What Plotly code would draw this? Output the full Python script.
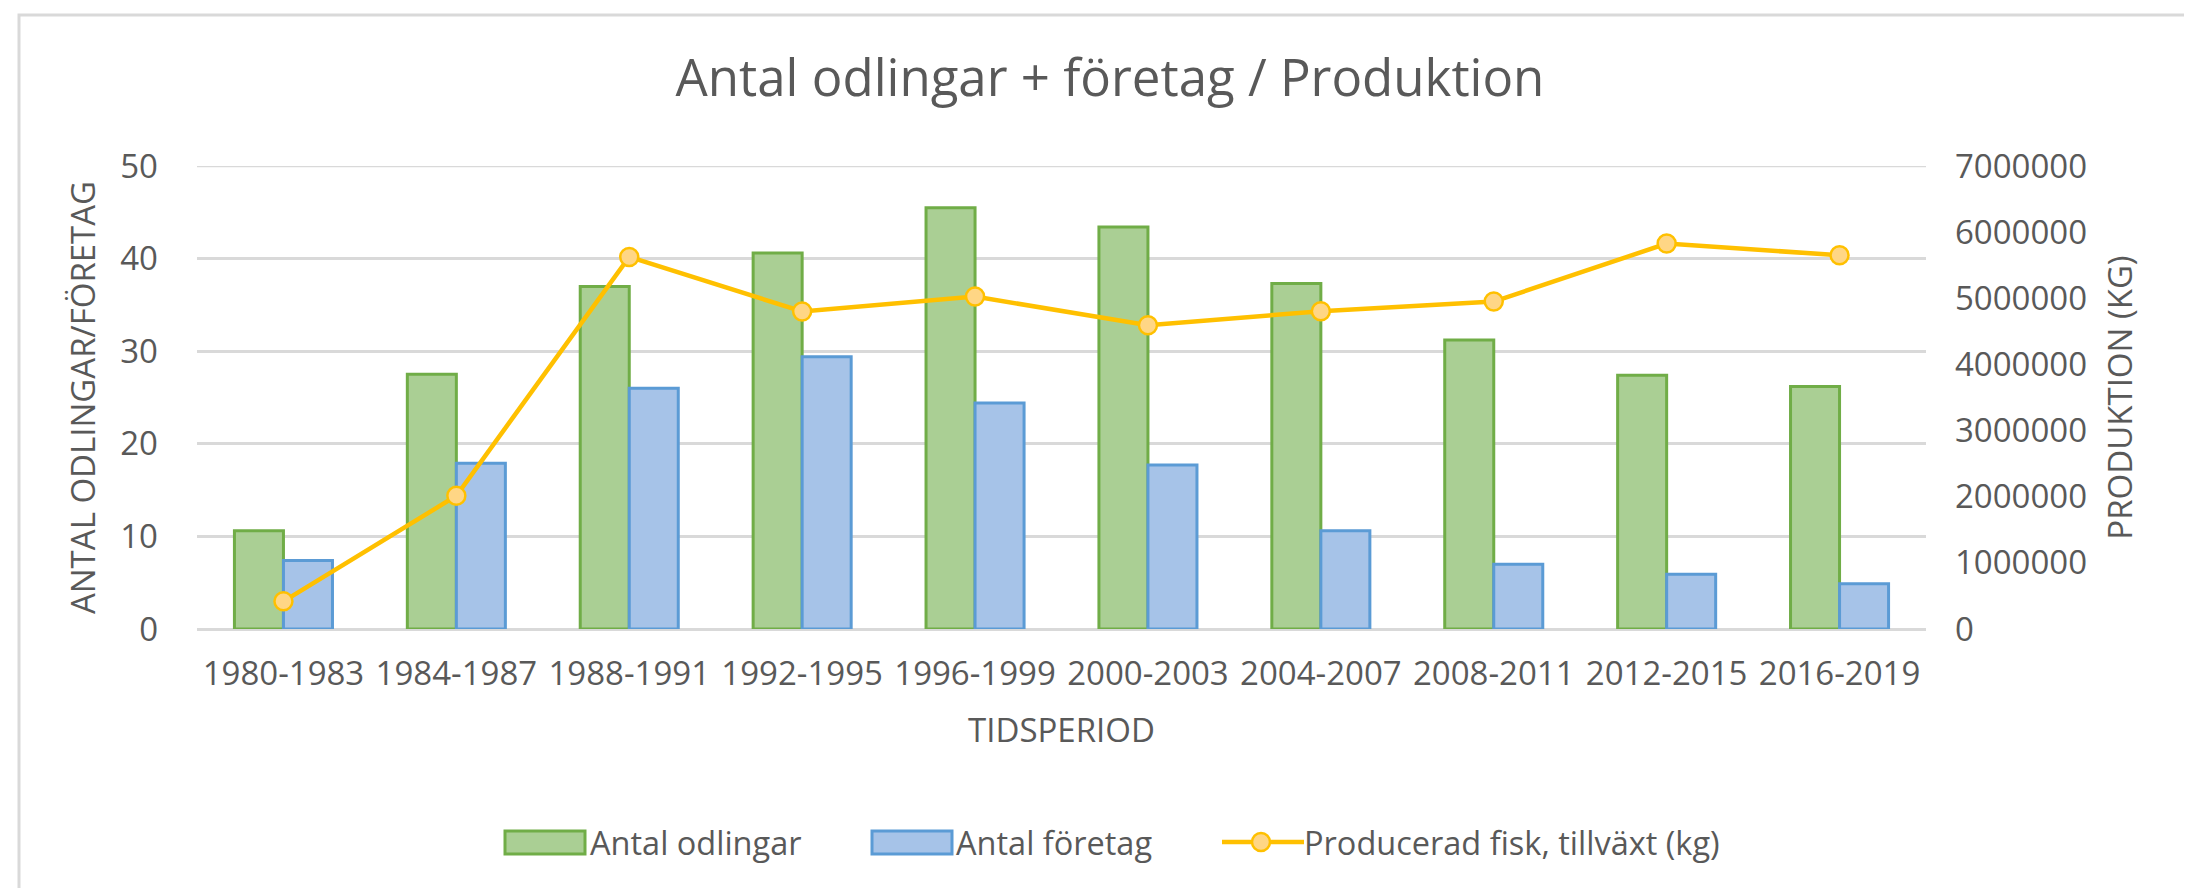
import plotly.graph_objects as go

# ---- data ----
periods = ["1980-1983", "1984-1987", "1988-1991", "1992-1995", "1996-1999",
           "2000-2003", "2004-2007", "2008-2011", "2012-2015", "2016-2019"]
antal_odlingar = [10.6, 27.5, 37.0, 40.6, 45.5, 43.4, 37.3, 31.2, 27.4, 26.2]
antal_foretag = [7.4, 17.9, 26.0, 29.4, 24.4, 17.7, 10.6, 7.0, 5.9, 4.9]
produktion_kg = [418000, 2014000, 5625000, 4800000, 5026000,
                 4593000, 4804000, 4950000, 5827000, 5650000]

title_text = "Antal odlingar + företag / Produktion"
y1_title = "ANTAL ODLINGAR/FÖRETAG"
y2_title = "PRODUKTION (KG)"
x_title = "TIDSPERIOD"
legend_labels = ["Antal odlingar", "Antal företag", "Producerad fisk, tillväxt (kg)"]

# ---- styling ----
W, H = 2192, 888
L, R, T, B = 189, 1918, 158, 621
FONT = "Open Sans"
TXT = "#595959"
GREEN_FILL, GREEN_LINE = "#aacf94", "#70ad47"
BLUE_FILL, BLUE_LINE = "#a6c3e8", "#5b9bd5"
GOLD, GOLD_FILL = "#ffc000", "#ffd685"
FS = 33


def px(x):
    return (x - L) / (R - L)


def py(y):
    return (B - y) / (B - T)


fig = go.Figure()
fig.add_trace(go.Bar(
    x=periods, y=antal_odlingar, name=legend_labels[0], showlegend=False,
    marker=dict(color=GREEN_FILL, line=dict(color=GREEN_LINE, width=3)),
))
fig.add_trace(go.Bar(
    x=periods, y=antal_foretag, name=legend_labels[1], showlegend=False,
    marker=dict(color=BLUE_FILL, line=dict(color=BLUE_LINE, width=3)),
))
fig.add_trace(go.Scatter(
    x=periods, y=produktion_kg, name=legend_labels[2], yaxis="y2", showlegend=False,
    mode="lines+markers",
    line=dict(color=GOLD, width=4.5),
    marker=dict(size=18, color=GOLD_FILL, line=dict(color=GOLD, width=2.5)),
))

shapes = [
    # outer border
    dict(type="rect", xref="paper", yref="paper",
         x0=px(11), x1=px(2183), y0=py(884), y1=py(7),
         line=dict(color="#d9d9d9", width=3), fillcolor="rgba(0,0,0,0)", layer="below"),
    # top gridline (50 / 7000000)
    dict(type="line", xref="paper", yref="y", x0=0, x1=1, y0=50, y1=50,
         line=dict(color="#d9d9d9", width=2.5), layer="below"),
    # legend swatches
    dict(type="rect", xref="paper", yref="paper",
         x0=px(497), x1=px(577), y0=py(846), y1=py(823),
         line=dict(color=GREEN_LINE, width=3), fillcolor=GREEN_FILL),
    dict(type="rect", xref="paper", yref="paper",
         x0=px(864), x1=px(944), y0=py(846), y1=py(823),
         line=dict(color=BLUE_LINE, width=3), fillcolor=BLUE_FILL),
    dict(type="line", xref="paper", yref="paper",
         x0=px(1214), x1=px(1296), y0=py(834), y1=py(834),
         line=dict(color=GOLD, width=4.5)),
    dict(type="circle", xref="paper", yref="paper",
         x0=px(1244), x1=px(1262), y0=py(843), y1=py(825),
         line=dict(color=GOLD, width=2.5), fillcolor=GOLD_FILL),
]

annotations = []
for lbl, xpos in zip(legend_labels, [580, 946, 1294]):
    annotations.append(dict(
        text=lbl, xref="paper", yref="paper", x=px(xpos), y=py(834),
        xanchor="left", yanchor="middle", showarrow=False,
        font=dict(family=FONT, size=32.5, color=TXT),
    ))

fig.update_layout(
    width=W, height=H,
    margin=dict(l=L, r=W - R, t=T, b=H - B, autoexpand=False),
    paper_bgcolor="white", plot_bgcolor="white",
    font=dict(family=FONT, size=FS, color=TXT),
    title=dict(text=title_text, x=1102 / W, xref="container", xanchor="center",
               y=1 - 70 / H, yref="container", yanchor="middle",
               font=dict(family=FONT, size=51, color=TXT)),
    barmode="group", bargap=0.433, bargroupgap=0.0,
    showlegend=False,
    xaxis=dict(
        range=[-0.5, 9.5],
        showgrid=False, showline=False, zeroline=False,
        tickfont=dict(size=FS, color=TXT), ticks="", ticklabelstandoff=22,
        title=dict(text=x_title, font=dict(size=FS, color=TXT), standoff=24),
    ),
    yaxis=dict(
        range=[0, 50], dtick=10, showgrid=True, gridcolor="#d9d9d9", gridwidth=2.5,
        zeroline=True, zerolinecolor="#d9d9d9", zerolinewidth=2.5, showline=False,
        tickfont=dict(size=FS, color=TXT), ticks="", ticklabelstandoff=38,
        title=dict(text=y1_title, font=dict(size=FS, color=TXT), standoff=14),
    ),
    yaxis2=dict(
        range=[0, 7000000], dtick=1000000, overlaying="y", side="right",
        showgrid=False, zeroline=False, showline=False, tickformat="d",
        tickfont=dict(size=FS, color=TXT), ticks="", ticklabelstandoff=28,
        title=dict(text=y2_title, font=dict(size=FS, color=TXT), standoff=22),
    ),
    shapes=shapes,
    annotations=annotations,
)

fig.write_html("out.html")
